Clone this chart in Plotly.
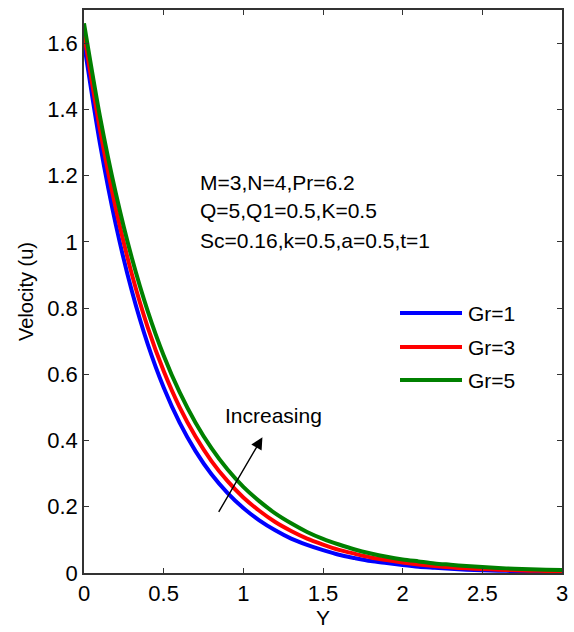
import plotly.graph_objects as go

# Data
Y = [0, 0.1, 0.2, 0.3, 0.4, 0.5, 0.6, 0.7, 0.8, 0.9, 1.0, 1.1, 1.2, 1.3, 1.4, 1.5,
     1.6, 1.7, 1.8, 1.9, 2.0, 2.1, 2.2, 2.3, 2.4, 2.5, 2.6, 2.7, 2.8, 2.9, 3.0]
u_gr1 = [1.600, 1.297, 1.051, 0.852, 0.691, 0.560, 0.454, 0.368, 0.298, 0.242, 0.196,
         0.159, 0.129, 0.104, 0.085, 0.069, 0.055, 0.045, 0.036, 0.030, 0.024,
         0.019, 0.016, 0.013, 0.010, 0.008, 0.007, 0.006, 0.005, 0.004, 0.003]
u_gr3 = [1.630, 1.340, 1.100, 0.903, 0.742, 0.610, 0.501, 0.412, 0.338, 0.278, 0.228,
         0.188, 0.154, 0.127, 0.104, 0.086, 0.070, 0.058, 0.047, 0.039, 0.032,
         0.026, 0.021, 0.017, 0.014, 0.012, 0.010, 0.008, 0.007, 0.006, 0.005]
u_gr5 = [1.660, 1.379, 1.146, 0.952, 0.791, 0.657, 0.546, 0.454, 0.377, 0.313, 0.260,
         0.217, 0.180, 0.150, 0.124, 0.103, 0.086, 0.071, 0.059, 0.049, 0.041,
         0.035, 0.029, 0.025, 0.021, 0.018, 0.015, 0.013, 0.011, 0.010, 0.009]
series_names = ["Gr=1", "Gr=3", "Gr=5"]
series_values = [u_gr1, u_gr3, u_gr5]
series_colors = ["#0000ff", "#ff0000", "#008000"]

x_ticks = [0, 0.5, 1, 1.5, 2, 2.5, 3]
y_ticks = [0, 0.2, 0.4, 0.6, 0.8, 1.0, 1.2, 1.4, 1.6]
y_ticktext = ["0", "0.2", "0.4", "0.6", "0.8", "1", "1.2", "1.4", "1.6"]
param_lines = ["M=3,N=4,Pr=6.2", "Q=5,Q1=0.5,K=0.5", "Sc=0.16,k=0.5,a=0.5,t=1"]

FONT = "Liberation Sans, Arial, Helvetica, sans-serif"

fig = go.Figure()
for name, vals, col in zip(series_names, series_values, series_colors):
    fig.add_trace(go.Scatter(x=Y, y=vals, mode="lines", name=name,
                             line=dict(color=col, width=4, shape="spline", smoothing=0.8),
                             showlegend=False))

W, H = 574, 632
ml, mr, mt, mb = 84, 12, 10, 59
pw, ph = W - ml - mr, H - mt - mb

def px_to_paper_x(px):
    return (px - ml) / pw

def px_to_paper_y(py):
    return (H - mb - py) / ph

shapes = []
annotations = []

# Custom legend (line sample + label)
leg_rows = [313, 347, 380]
for (name, col, yr) in zip(series_names, series_colors, leg_rows):
    shapes.append(dict(type="line", xref="paper", yref="paper",
                       x0=px_to_paper_x(400), x1=px_to_paper_x(462),
                       y0=px_to_paper_y(yr), y1=px_to_paper_y(yr),
                       line=dict(color=col, width=4)))
    annotations.append(dict(text=name, xref="paper", yref="paper",
                            x=px_to_paper_x(466), y=px_to_paper_y(yr),
                            xanchor="left", yanchor="middle", showarrow=False,
                            font=dict(family=FONT, size=21, color="black")))

# Parameter text block
for txt, yr in zip(param_lines, [182, 211, 240]):
    annotations.append(dict(text=txt, xref="paper", yref="paper",
                            x=px_to_paper_x(198), y=px_to_paper_y(yr),
                            xanchor="left", yanchor="middle", showarrow=False,
                            font=dict(family=FONT, size=21, color="black")))

# "Increasing" label
annotations.append(dict(text="Increasing", xref="paper", yref="paper",
                        x=px_to_paper_x(223), y=px_to_paper_y(415),
                        xanchor="left", yanchor="middle", showarrow=False,
                        font=dict(family=FONT, size=21, color="black")))

# Arrow
annotations.append(dict(text="", x=1.12, y=0.41, ax=0.84, ay=0.18,
                        xref="x", yref="y", axref="x", ayref="y",
                        showarrow=True, arrowhead=2, arrowsize=1.7, arrowwidth=1.4,
                        arrowcolor="black"))

fig.update_layout(
    width=W, height=H,
    margin=dict(l=ml, r=mr, t=mt, b=mb),
    paper_bgcolor="white", plot_bgcolor="white",
    font=dict(family=FONT, size=20, color="black"),
    shapes=shapes, annotations=annotations,
    xaxis=dict(range=[0, 3], tickvals=x_ticks, ticktext=[str(v) for v in x_ticks],
               ticks="inside", ticklen=5, tickcolor="#333", tickwidth=1,
               showline=True, linecolor="#333", linewidth=1.5, mirror="ticks",
               showgrid=False, zeroline=False, automargin=False,
               tickfont=dict(family=FONT, size=22),
               title=dict(text="Y", font=dict(family=FONT, size=21), standoff=2)),
    yaxis=dict(range=[0, 1.7], tickvals=y_ticks, ticktext=y_ticktext,
               ticks="inside", ticklen=5, tickcolor="#333", tickwidth=1,
               showline=True, linecolor="#333", linewidth=1.5, mirror="ticks",
               showgrid=False, zeroline=False, automargin=False,
               tickfont=dict(family=FONT, size=22),
               title=dict(text="Velocity (u)", font=dict(family=FONT, size=20), standoff=8)),
)

fig.write_html("out.html")
